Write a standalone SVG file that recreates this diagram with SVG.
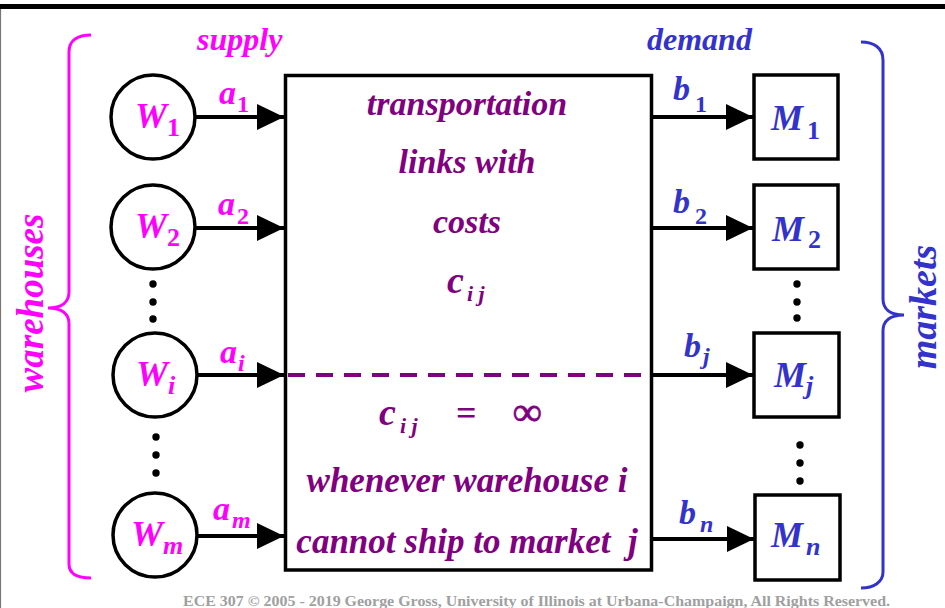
<svg xmlns="http://www.w3.org/2000/svg" width="945" height="608" viewBox="0 0 945 608">
<defs>
<style>
.t{font-family:"Liberation Serif","Times New Roman",serif;font-weight:bold;font-style:italic}
.up{font-style:normal}
.mag{fill:#FF00FF}
.blu{fill:#3333CC}
.pur{fill:#800080}
.node{fill:#fff;stroke:#000;stroke-width:3.5}
.conn{stroke:#000;stroke-width:4;fill:none}
.dot{fill:#000}
</style>
<marker id="ah" markerUnits="userSpaceOnUse" markerWidth="28" markerHeight="26" refX="27" refY="13" orient="auto">
<path d="M0,0 L27,13 L0,26 z" fill="#000"/>
</marker>
</defs>
<rect width="945" height="608" fill="#fff"/>
<rect x="0" y="4" width="945" height="5" fill="#000"/>
<line x1="0.5" y1="9" x2="0.5" y2="608" stroke="#777" stroke-width="1.2"/>

<!-- braces -->
<path d="M91,35 C78,35 69,40 69,52 L69,292 C69,302 62,308 48,308 C62,308 69,314 69,324 L69,564 C69,574 78,578 91,578" fill="none" stroke="#FF00FF" stroke-width="3"/>
<path d="M861,42 C874,42 883,48 883,60 L883,299 C883,309 890,315 904,315 C890,315 883,321 883,331 L883,572 C883,582 874,588 861,588" fill="none" stroke="#3333CC" stroke-width="3"/>
<text class="t mag" font-size="37" text-anchor="middle" transform="translate(43,303) rotate(-90)">warehouses</text>
<text class="t blu" font-size="38" text-anchor="middle" transform="translate(936,307) rotate(-90)">markets</text>

<text class="t mag" font-size="32" x="197" y="50">supply</text>
<text class="t blu" font-size="32" x="647" y="50">demand</text>

<!-- connectors -->
<g id="connectors">
<line class="conn" x1="196" y1="117" x2="284" y2="117" marker-end="url(#ah)"/>
<line class="conn" x1="196" y1="228" x2="284" y2="228" marker-end="url(#ah)"/>
<line class="conn" x1="197" y1="375" x2="284" y2="375" marker-end="url(#ah)"/>
<line class="conn" x1="197" y1="536" x2="284" y2="536" marker-end="url(#ah)"/>
<line class="conn" x1="652" y1="117" x2="753" y2="117" marker-end="url(#ah)"/>
<line class="conn" x1="652" y1="228" x2="753" y2="228" marker-end="url(#ah)"/>
<line class="conn" x1="652" y1="375" x2="753" y2="375" marker-end="url(#ah)"/>
<line class="conn" x1="652" y1="539" x2="754" y2="539" marker-end="url(#ah)"/>
<text class="t mag" font-size="34" x="219" y="104">a<tspan class="up" font-size="24" x="237" y="112">1</tspan></text>
<text class="t mag" font-size="34" x="218" y="215">a<tspan class="up" font-size="24" x="237" y="224">2</tspan></text>
<text class="t mag" font-size="34" x="220" y="363">a<tspan font-size="24" x="238" y="371">i</tspan></text>
<text class="t mag" font-size="34" x="213" y="520">a<tspan font-size="24" x="232" y="528">m</tspan></text>
<text class="t blu" font-size="34" x="673" y="100">b<tspan class="up" font-size="24" x="695" y="112">1</tspan></text>
<text class="t blu" font-size="34" x="673" y="213">b<tspan class="up" font-size="24" x="695" y="224">2</tspan></text>
<text class="t blu" font-size="34" x="684" y="357">b<tspan font-size="24" x="703" y="364">j</tspan></text>
<text class="t blu" font-size="34" x="679" y="524">b<tspan font-size="24" x="700" y="532">n</tspan></text>
</g>

<!-- warehouses -->
<g id="W1"><circle class="node" cx="153" cy="117" r="42"/><text class="t mag" font-size="36" x="135" y="128">W<tspan class="up" font-size="26" x="167" y="136">1</tspan></text></g>
<g id="W2"><circle class="node" cx="153" cy="227" r="42"/><text class="t mag" font-size="36" x="135" y="238">W<tspan class="up" font-size="26" x="167" y="246">2</tspan></text></g>
<g id="Wi"><circle class="node" cx="155" cy="375" r="42"/><text class="t mag" font-size="36" x="136" y="386">W<tspan font-size="26" x="168" y="394">i</tspan></text></g>
<g id="Wm"><circle class="node" cx="155" cy="535" r="42"/><text class="t mag" font-size="36" x="131" y="546">W<tspan font-size="26" x="163" y="554">m</tspan></text></g>
<g id="dotsW">
<circle class="dot" cx="153" cy="284" r="3.7"/><circle class="dot" cx="153" cy="302" r="3.7"/><circle class="dot" cx="153" cy="319" r="3.7"/>
<circle class="dot" cx="156" cy="437" r="3.7"/><circle class="dot" cx="156" cy="455" r="3.7"/><circle class="dot" cx="156" cy="473" r="3.7"/>
</g>

<!-- central box -->
<g id="links">
<rect x="285.5" y="75.5" width="366" height="494.5" fill="none" stroke="#000" stroke-width="3.5"/>
<line x1="288" y1="375" x2="645" y2="375" stroke="#800080" stroke-width="4" stroke-dasharray="17 11"/>
<g class="t pur" text-anchor="middle">
<text font-size="34" x="467" y="115">transportation</text>
<text font-size="34" x="467" y="173">links with</text>
<text font-size="34" x="467" y="233">costs</text>
<text font-size="35" x="467" y="492">whenever warehouse i</text>
<text font-size="35" x="467" y="553">cannot ship to market&#160; j</text>
</g>
<text class="t pur" font-size="38" x="447" y="293">c<tspan font-size="22" x="467" y="301">i j</tspan></text>
<text class="t pur" font-size="38" x="379" y="425">c<tspan font-size="22" x="400" y="433">i j</tspan></text>
<text class="t pur up" font-size="36" x="456" y="425">=</text>
<text class="t pur up" font-size="40" x="513" y="425" stroke="#800080" stroke-width="0.8">∞</text>
</g>

<!-- markets -->
<g id="M1"><rect class="node" x="754" y="75" width="84" height="84" stroke-width="4"/><text class="t blu" font-size="36" x="771" y="130">M<tspan class="up" font-size="26" x="807" y="139">1</tspan></text></g>
<g id="M2"><rect class="node" x="754" y="185" width="84" height="84" stroke-width="4"/><text class="t blu" font-size="36" x="772" y="241">M<tspan class="up" font-size="26" x="808" y="248">2</tspan></text></g>
<g id="Mj"><rect class="node" x="754" y="333" width="85" height="84" stroke-width="4"/><text class="t blu" font-size="36" x="774" y="387">M<tspan font-size="26" x="806" y="394">j</tspan></text></g>
<g id="Mn"><rect class="node" x="755" y="495" width="85" height="85" stroke-width="4"/><text class="t blu" font-size="36" x="771" y="547">M<tspan font-size="26" x="806" y="555">n</tspan></text></g>
<g id="dotsM">
<circle class="dot" cx="797" cy="284" r="3.7"/><circle class="dot" cx="797" cy="302" r="3.7"/><circle class="dot" cx="797" cy="318" r="3.7"/>
<circle class="dot" cx="800" cy="445" r="3.7"/><circle class="dot" cx="800" cy="463" r="3.7"/><circle class="dot" cx="800" cy="481" r="3.7"/>
</g>

<text x="183" y="606" font-family="Liberation Serif,'Times New Roman',serif" font-weight="bold" font-size="14.5" fill="#A0A0A0" textLength="707" lengthAdjust="spacingAndGlyphs">ECE 307 © 2005 - 2019 George Gross, University of Illinois at Urbana-Champaign, All Rights Reserved.</text>
</svg>
